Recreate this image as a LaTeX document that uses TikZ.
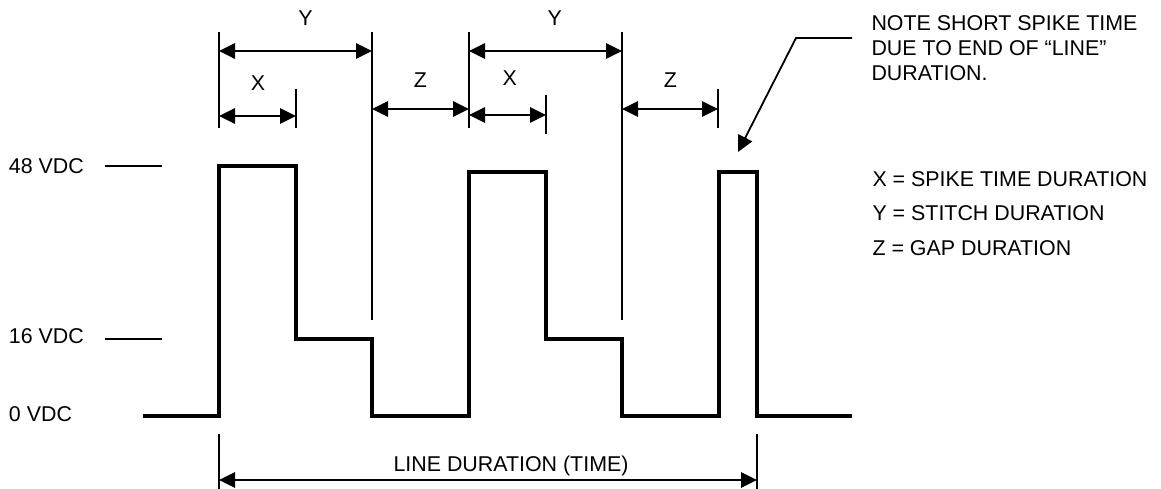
\documentclass[tikz,border=0pt]{standalone}
\usepackage{fontspec}
\setmainfont{Liberation Sans}
\usetikzlibrary{arrows.meta}
\begin{document}
\begin{tikzpicture}[x=1pt,y=-1pt,
  thinline/.style={line width=1.8pt},
  wave/.style={line width=3.6pt},
  dim/.style={line width=1.8pt,{Triangle[length=16pt,width=15.5pt]}-{Triangle[length=16pt,width=15.5pt]}},
  lbl/.style={font=\fontsize{21.4}{25}\selectfont, inner sep=0pt, outer sep=0pt}]
\useasboundingbox (0,0) rectangle (1161,489);

% voltage labels
\node[lbl,anchor=base west] (v48) at (9,174) {48 VDC};
\node[lbl,anchor=base west] (v16) at (9,343) {16 VDC};
\node[lbl,anchor=base west] (v0)  at (9,421.3) {0 VDC};
\coordinate (t48a) at (105,166); \coordinate (t48b) at (162,166);
\coordinate (t16a) at (105,339); \coordinate (t16b) at (162,339);
\draw[thinline] (t48a) -- (t48b);
\draw[thinline] (t16a) -- (t16b);

% waveform
\coordinate (w0) at (143,416);
\coordinate (w1) at (219,416); \coordinate (w2) at (219,166);
\coordinate (w3) at (296,166); \coordinate (w4) at (296,339);
\coordinate (w5) at (372,339); \coordinate (w6) at (372,416);
\coordinate (w7) at (469,416); \coordinate (w8) at (469,172);
\coordinate (w9) at (546,172); \coordinate (w10) at (546,339);
\coordinate (w11) at (622,339); \coordinate (w12) at (622,416);
\coordinate (w13) at (719,416); \coordinate (w14) at (719,172);
\coordinate (w15) at (757,172); \coordinate (w16) at (757,416);
\coordinate (w17) at (852,416);
\draw[wave] (w0) -- (w1) -- (w2) -- (w3) -- (w4) -- (w5) -- (w6) -- (w7) -- (w8) -- (w9) -- (w10) -- (w11) -- (w12) -- (w13) -- (w14) -- (w15) -- (w16) -- (w17);

% extension lines
\coordinate (e1a) at (219,32); \coordinate (e1b) at (219,128);
\coordinate (e2a) at (372,32); \coordinate (e2b) at (372,320);
\coordinate (e3a) at (469,32); \coordinate (e3b) at (469,128);
\coordinate (e4a) at (622,32); \coordinate (e4b) at (622,320);
\coordinate (e5a) at (296,89); \coordinate (e5b) at (296,128);
\coordinate (e6a) at (546,95); \coordinate (e6b) at (546,134);
\coordinate (e7a) at (718,89); \coordinate (e7b) at (718,128);
\coordinate (e8a) at (219,434); \coordinate (e8b) at (219,489);
\coordinate (e9a) at (757,434); \coordinate (e9b) at (757,489);
\foreach \e in {1,...,9} \draw[thinline] (e\e a) -- (e\e b);

% dimension arrows
\coordinate (y1a) at (219,51); \coordinate (y1b) at (372,51);
\coordinate (y2a) at (469,51); \coordinate (y2b) at (622,51);
\coordinate (x1a) at (219,116); \coordinate (x1b) at (296,116);
\coordinate (x2a) at (469,115); \coordinate (x2b) at (546,115);
\coordinate (z1a) at (372,109); \coordinate (z1b) at (469,109);
\coordinate (z2a) at (622,109); \coordinate (z2b) at (718,109);
\coordinate (la) at (219,480); \coordinate (lb) at (757,480);
\draw[dim] (y1a) -- (y1b);
\draw[dim] (y2a) -- (y2b);
\draw[dim] (x1a) -- (x1b);
\draw[dim] (x2a) -- (x2b);
\draw[dim] (z1a) -- (z1b);
\draw[dim] (z2a) -- (z2b);
\draw[dim] (la) -- (lb);

% dimension labels
\node[lbl,anchor=base] (ly1) at (305.5,26) {Y};
\node[lbl,anchor=base] (ly2) at (554.7,26) {Y};
\node[lbl,anchor=base] (lx1) at (258,91) {X};
\node[lbl,anchor=base] (lx2) at (509.7,86) {X};
\node[lbl,anchor=base] (lz1) at (420.3,88) {Z};
\node[lbl,anchor=base] (lz2) at (670.3,88) {Z};
\node[lbl,anchor=base] (ldur) at (511,471.7) {LINE DURATION (TIME)};

% note
\node[lbl,anchor=base west] (n1) at (871.5,31) {NOTE SHORT SPIKE TIME};
\node[lbl,anchor=base west] (n2) at (871.5,56) {DUE TO END OF “LINE”};
\node[lbl,anchor=base west] (n3) at (871.5,81) {DURATION.};
\coordinate (ld1) at (852,38); \coordinate (ld2) at (796,38); \coordinate (ld3) at (738,152);
\draw[thinline,-{Triangle[length=16pt,width=15.5pt]}] (ld1) -- (ld2) -- (ld3);

% legend
\node[lbl,anchor=base west] (kx) at (872.5,186.3) {X = SPIKE TIME DURATION};
\node[lbl,anchor=base west] (ky) at (872.5,220.7) {Y = STITCH DURATION};
\node[lbl,anchor=base west] (kz) at (872.5,255) {Z = GAP DURATION};
\end{tikzpicture}
\end{document}
